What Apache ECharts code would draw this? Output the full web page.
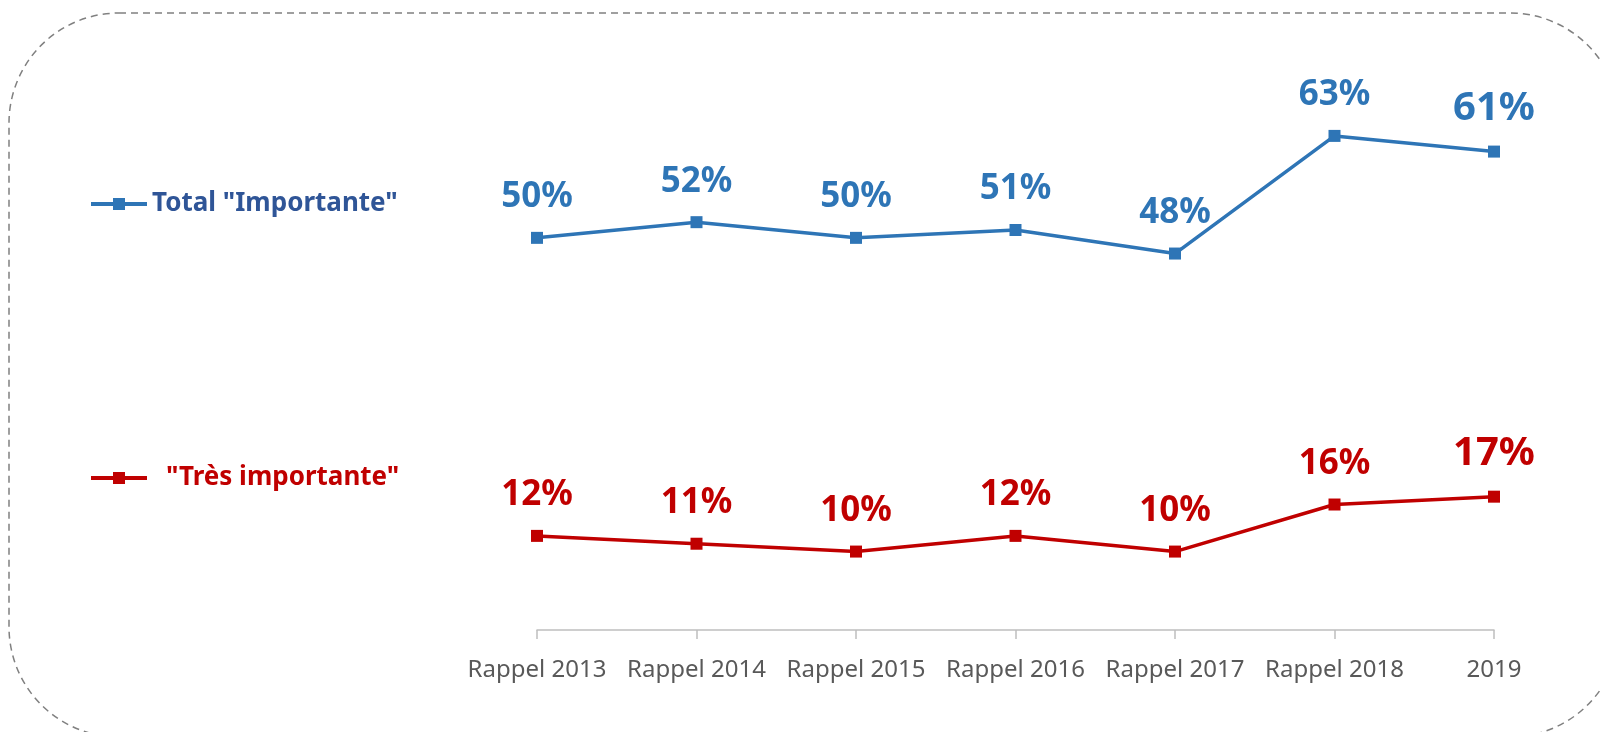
<!DOCTYPE html>
<html>
<head>
<meta charset="utf-8">
<script src="https://cdn.jsdelivr.net/npm/echarts@6/dist/echarts.min.js"></script>
<style>
	html, body { margin: 0; padding: 0; background: #fff; }
	#chart { width: 1601px; height: 732px; }
</style>
</head>
<body>
<div id="chart"></div>
<script>
const categories = ['Rappel 2013', 'Rappel 2014', 'Rappel 2015', 'Rappel 2016', 'Rappel 2017', 'Rappel 2018', '2019'];
const totalImportante = [50, 52, 50, 51, 48, 63, 61];
const tresImportante = [12, 11, 10, 12, 10, 16, 17];
const seriesNames = ['Total "Importante"', '"Très importante"'];

const blue = '#2E75B6';
const red = '#C00000';

// last point gets a slightly bigger label, like in the original
const toData = function (values) {
	return values.map((v, i) => {
		if (i === values.length - 1) {
			return { value: v, label: { fontSize: 40 } };
		}
		return v;
	});
};

const chart = echarts.init(document.getElementById('chart'));

const option = {
	animation: false,
	grid: {
		left: 537,
		right: 107,
		top: 81,
		bottom: 102
	},
	legend: [
		{
			data: [seriesNames[0]],
			left: 84,
			top: 186,
			itemWidth: 56,
			itemHeight: 15,
			selectedMode: false,
			lineStyle: { width: 4 },
			textStyle: {
				color: '#2F5597',
				fontSize: 26,
				fontWeight: 'bold',
				fontFamily: 'Noto Sans'
			}
		},
		{
			data: [seriesNames[1]],
			left: 84,
			top: 460,
			itemWidth: 56,
			itemHeight: 15,
			selectedMode: false,
			lineStyle: { width: 4 },
			textStyle: {
				color: red,
				fontSize: 26,
				fontWeight: 'bold',
				fontFamily: 'Noto Sans',
				padding: [0, 0, 0, 14]
			}
		}
	],
	xAxis: {
		type: 'category',
		data: categories,
		boundaryGap: false,
		axisLine: { lineStyle: { color: '#BFBFBF', width: 1.5 } },
		axisTick: { show: true, length: 9, lineStyle: { color: '#BFBFBF', width: 1.5 } },
		axisLabel: {
			interval: 0,
			color: '#595959',
			fontSize: 24,
			fontFamily: 'Noto Sans',
			margin: 28
		}
	},
	yAxis: {
		type: 'value',
		min: 0,
		max: 70,
		show: false
	},
	series: [
		{
			name: seriesNames[0],
			type: 'line',
			data: toData(totalImportante),
			symbol: 'rect',
			symbolSize: 12,
			lineStyle: { color: blue, width: 3.5 },
			itemStyle: { color: blue },
			label: {
				show: true,
				position: 'top',
				distance: 17,
				formatter: '{c}%',
				color: blue,
				fontSize: 35,
				fontWeight: 'bold',
				fontFamily: 'Noto Sans'
			}
		},
		{
			name: seriesNames[1],
			type: 'line',
			data: toData(tresImportante),
			symbol: 'rect',
			symbolSize: 12,
			lineStyle: { color: red, width: 3.5 },
			itemStyle: { color: red },
			label: {
				show: true,
				position: 'top',
				distance: 17,
				formatter: '{c}%',
				color: red,
				fontSize: 35,
				fontWeight: 'bold',
				fontFamily: 'Noto Sans'
			}
		}
	],
	graphic: [
		{
			type: 'rect',
			silent: true,
			z: -1,
			shape: { x: 9, y: 13, width: 1611, height: 724, r: 110 },
			style: {
				fill: 'none',
				stroke: '#808080',
				lineWidth: 1.5,
				lineDash: [7, 5]
			}
		}
	]
};

chart.setOption(option);
</script>
</body>
</html>
